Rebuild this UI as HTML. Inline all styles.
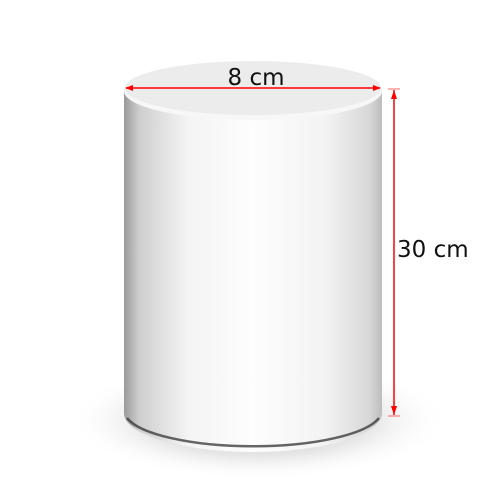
<!DOCTYPE html>
<html><head><style>
html,body{margin:0;padding:0;background:#fff;width:500px;height:500px;overflow:hidden}
</style></head><body>
<svg width="500" height="500" viewBox="0 0 500 500">
<defs>
<linearGradient id="body" x1="0" x2="1" y1="0" y2="0">
<stop offset="0" stop-color="#9a9a9a"/>
<stop offset="0.06" stop-color="#cfcfcf"/>
<stop offset="0.25" stop-color="#f4f4f4"/>
<stop offset="0.5" stop-color="#fdfdfd"/>
<stop offset="0.78" stop-color="#f3f3f3"/>
<stop offset="0.95" stop-color="#d8d8d8"/>
<stop offset="1" stop-color="#bdbdbd"/>
</linearGradient>
<radialGradient id="shadow" cx="0.5" cy="0.5" r="0.5">
<stop offset="0" stop-color="#c8c8c8"/>
<stop offset="0.6" stop-color="#e6e6e6"/>
<stop offset="1" stop-color="#ffffff" stop-opacity="0"/>
</radialGradient>
</defs>
<ellipse cx="258" cy="420" rx="190" ry="60" fill="url(#shadow)"/>
<path d="M124 89 L124 413 A129 39 0 0 0 382 413 L382 89 Z" fill="url(#body)"/>
<path d="M127 418 A129 36 0 0 0 379 418" fill="none" stroke="#333" stroke-width="2.5" opacity="0.75"/>
<ellipse cx="253" cy="91" rx="129" ry="29" fill="#f7f7f7"/>
<ellipse cx="253" cy="88" rx="128" ry="27" fill="#ececec"/>
<line x1="126" y1="88" x2="380" y2="88" stroke="#f00" stroke-width="1.5"/>
<polygon points="125,88 133,85 133,91" fill="#f00"/>
<polygon points="381,88 373,85 373,91" fill="#f00"/>
<text x="256" y="85" font-family="DejaVu Sans, sans-serif" font-size="23" text-anchor="middle" fill="#111">8 cm</text>
<line x1="394" y1="90" x2="394" y2="415" stroke="#f00" stroke-width="1.5"/>
<line x1="388" y1="89" x2="400" y2="89" stroke="#f66" stroke-width="1"/>
<line x1="388" y1="416" x2="400" y2="416" stroke="#f66" stroke-width="1"/>
<polygon points="394,90 391,99 397,99" fill="#f00"/>
<polygon points="394,415 391,406 397,406" fill="#f00"/>
<text x="397" y="257" font-family="DejaVu Sans, sans-serif" font-size="23" fill="#111">30 cm</text>
</svg>
</body></html>
